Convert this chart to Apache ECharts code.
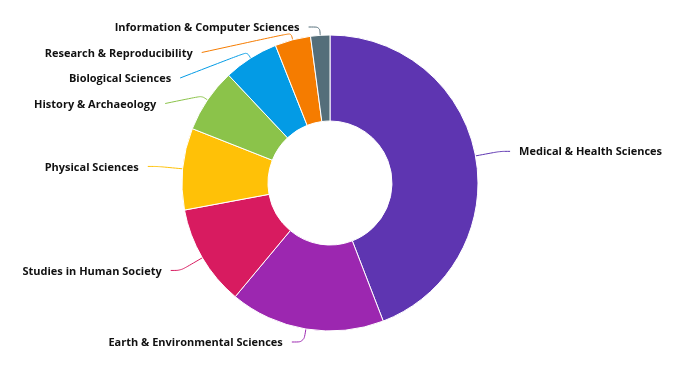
<!DOCTYPE html>
<html><head><meta charset="utf-8">
<script src="https://cdn.jsdelivr.net/npm/echarts@6/dist/echarts.min.js"></script>
<style>html,body{margin:0;padding:0;background:#fff}#c{width:682px;height:369px}</style>
</head><body><div id="c"></div>
<script>
const categories = ["Medical & Health Sciences","Earth & Environmental Sciences","Studies in Human Society","Physical Sciences","History & Archaeology","Biological Sciences","Research & Reproducibility","Information & Computer Sciences"];
const values = [441,169,110,89,70,60,39,21];
const colors = ["#5E35B1","#9C27B0","#D81B60","#FFC107","#8BC34A","#039BE5","#F57C00","#546E7A"];

// geometry / style settings
const CX = 330, CY = 183, R_IN = 62, R_OUT = 148;
const LEN = 25, LEN2 = 10, DIST = 9, LABEL_H = 25.5, VIEW_TOP = 14.25, VIEW_BOTTOM = 354.75;
const MOVED_LEN = 7, TEXT_DY = 1;

// label layout computed from the slice angles
function computeLabels() {
  const total = values.reduce((a, b) => a + b, 0);
  let cum = 0;
  const items = values.map((v, i) => {
    const mid = (cum + v / 2) / total * Math.PI * 2; cum += v;
    const s = Math.sin(mid), c = Math.cos(mid);
    const dir = s < 0 ? -1 : 1;
    const E = [CX + R_OUT * s, CY - R_OUT * c];
    const B = [CX + (R_OUT + LEN) * s, CY - (R_OUT + LEN) * c];
    return { i, dir, s, c, E, B, y: B[1], x: B[0] + dir * LEN2, moved: false, clamped: false };
  });
  [-1, 1].forEach(d => {
    const side = items.filter(it => it.dir === d).sort((a, b) => a.y - b.y);
    const lo = VIEW_TOP + LABEL_H / 2, hi = VIEW_BOTTOM - LABEL_H / 2;
    side.forEach(it => {
      const ny = Math.min(hi, Math.max(lo, it.y));
      if (ny !== it.y) { it.clamped = true; it.y = ny; }
    });
    for (let k = 1; k < side.length; k++) {
      if (side[k].y < side[k - 1].y + LABEL_H) { side[k].y = side[k - 1].y + LABEL_H; side[k].moved = true; side[k].clamped = false; }
    }
    for (let k = side.length - 1; k > 0; k--) {
      if (side[k - 1].y > side[k].y - LABEL_H) { side[k - 1].y = side[k].y - LABEL_H; side[k - 1].moved = true; side[k - 1].clamped = false; }
    }
    const Rt = R_OUT + LEN + LEN2;
    side.forEach(it => {
      const dy = Math.abs(it.y - CY);
      if (it.moved && dy < Rt) it.x = CX + d * Math.sqrt(Rt * Rt - dy * dy);
      let t = LEN;
      if (it.moved) t = MOVED_LEN;
      else if (it.clamped) t = Math.max(0, Math.min(LEN, (it.y - it.E[1]) / (it.B[1] - it.E[1]) * LEN));
      it.P = [CX + (R_OUT + t) * it.s, CY - (R_OUT + t) * it.c];
    });
  });
  return items;
}
const labelPos = computeLabels();

const chart = echarts.init(document.getElementById('c'), null, {renderer:'canvas'});
chart.setOption({
  animation:false,
  series:[{
    type:'pie',
    center:[CX, CY],
    radius:[R_IN, R_OUT],
    startAngle:90,
    clockwise:true,
    avoidLabelOverlap:true,
    itemStyle:{borderColor:'#fff',borderWidth:1},
    label:{
      color:'#111',fontFamily:'Open Sans',fontWeight:'bold',fontSize:11,
      distanceToLabelLine:DIST
    },
    labelLine:{length:LEN,length2:LEN2,smooth:0.3,lineStyle:{width:1}},
    labelLayout: function (p) {
      const it = labelPos[p.dataIndex];
      return {
        x: it.x + it.dir * DIST,
        y: it.y + TEXT_DY,
        align: it.dir < 0 ? 'right' : 'left',
        verticalAlign: 'middle',
        labelLinePoints: [it.E, it.P, [it.x, it.y]]
      };
    },
    data:categories.map((n,i)=>({name:n,value:values[i],itemStyle:{color:colors[i]}}))
  }]
});
</script></body></html>
